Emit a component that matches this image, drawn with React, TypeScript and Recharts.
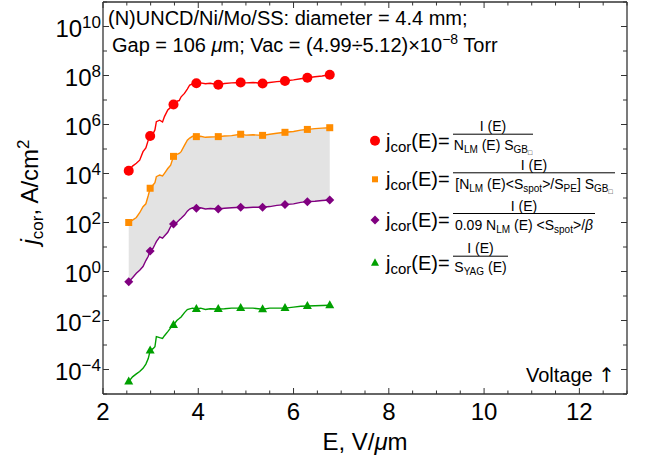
import React from 'react';
import { ComposedChart, Line, Area, Scatter, XAxis, YAxis } from 'recharts';

// ---------------- data ----------------
const E = [2.54, 2.62, 2.70, 2.77, 2.84, 2.90, 2.95, 2.99, 3.05, 3.09, 3.12, 3.19, 3.25, 3.29, 3.36, 3.42, 3.48, 3.55, 3.60, 3.64, 3.71, 3.77, 3.82, 3.88, 3.96, 4.05, 4.15, 4.25, 4.42, 4.55, 4.70, 4.89, 5.00, 5.15, 5.35, 5.50, 5.65, 5.82, 6.00, 6.15, 6.29, 6.45, 6.60, 6.76];

const redLine = [1.3e4, 2.0e4, 2.6e4, 3.5e4, 7.8e4, 1.1e5, 2.3e5, 3.4e5, 4.2e5, 6.0e5, 1.3e6, 1.5e6, 1.26e6, 2.1e6, 3.9e6, 5.0e6, 6.6e6, 8.9e6, 9.5e6, 1.35e7, 1.86e7, 2.8e7, 4.1e7, 4.5e7, 4.8e7, 5.0e7, 4.6e7, 4.8e7, 4.2e7, 4.7e7, 5.0e7, 5.2e7, 5.0e7, 5.2e7, 4.7e7, 5.2e7, 5.6e7, 6.0e7, 6.6e7, 7.4e7, 8.1e7, 8.9e7, 9.5e7, 1.07e8];
const orangeLine = [1.0e2, 1.26e2, 1.6e2, 2.5e2, 4.4e2, 5.8e2, 1.26e3, 2.5e3, 3.4e3, 4.2e3, 7.4e3, 8.7e3, 7.9e3, 1.02e4, 1.6e4, 2.2e4, 5.0e4, 6.0e4, 6.6e4, 7.8e4, 1.4e5, 2.3e5, 2.8e5, 3.3e5, 3.2e5, 3.3e5, 3.0e5, 3.1e5, 3.2e5, 3.4e5, 3.5e5, 4.0e5, 3.7e5, 3.8e5, 3.6e5, 4.0e5, 4.4e5, 4.8e5, 5.2e5, 5.9e5, 6.3e5, 6.8e5, 7.1e5, 7.4e5];
const purpleLine = [0.38, 0.56, 0.85, 1.12, 1.6, 2.8, 4.2, 6.9, 8.9, 12.6, 16.6, 26, 23, 28, 40, 68, 87, 100, 126, 148, 200, 290, 355, 400, 380, 400, 355, 372, 355, 380, 400, 417, 400, 417, 417, 447, 500, 537, 575, 660, 708, 741, 794, 832];
const greenLine = [3.2e-5, 5.0e-5, 6.6e-5, 8.3e-5, 1.12e-4, 1.66e-4, 2.8e-4, 5.9e-4, 7.1e-4, 8.5e-4, 2.2e-3, 2.0e-3, 1.86e-3, 2.4e-3, 3.5e-3, 5.0e-3, 6.6e-3, 1.0e-2, 1.2e-2, 1.4e-2, 2.1e-2, 2.8e-2, 3.0e-2, 3.2e-2, 2.95e-2, 3.2e-2, 2.8e-2, 3.0e-2, 2.95e-2, 3.0e-2, 3.2e-2, 3.2e-2, 3.2e-2, 3.2e-2, 2.9e-2, 3.2e-2, 3.2e-2, 3.2e-2, 3.5e-2, 3.8e-2, 3.9e-2, 4.0e-2, 4.1e-2, 4.2e-2];

const markerE = [2.54, 2.99, 3.48, 3.96, 4.42, 4.89, 5.35, 5.82, 6.29, 6.76];
const redMarkers = [1.3e4, 3.4e5, 6.6e6, 4.8e7, 4.2e7, 5.2e7, 4.7e7, 6.0e7, 8.1e7, 1.07e8];
const orangeMarkers = [1.0e2, 2.5e3, 5.0e4, 3.2e5, 3.2e5, 4.0e5, 3.6e5, 4.8e5, 6.3e5, 7.4e5];
const purpleMarkers = [0.38, 6.9, 87, 380, 355, 417, 417, 537, 708, 832];
const greenMarkers = [3.2e-5, 5.9e-4, 6.6e-3, 2.95e-2, 2.95e-2, 3.2e-2, 2.9e-2, 3.2e-2, 3.9e-2, 4.2e-2];

const xTicks = [2, 2.5, 3, 3.5, 4, 4.5, 5, 5.5, 6, 6.5, 7, 7.5, 8, 8.5, 9, 9.5, 10, 10.5, 11, 11.5, 12, 12.5, 13];
const xLabelTicks = [2, 4, 6, 8, 10, 12];
const yTickExponents = [-5, -4, -3, -2, -1, 0, 1, 2, 3, 4, 5, 6, 7, 8, 9, 10, 11];
const yLabelExponents = [-4, -2, 0, 2, 4, 6, 8, 10];

// ---------------- tables built from the arrays ----------------
const lineTable = E.map((e, i) => ({
  E: e,
  red: redLine[i],
  orange: orangeLine[i],
  purple: purpleLine[i],
  green: greenLine[i],
  band: [purpleLine[i], orangeLine[i]],
}));
const markerTable = markerE.map((e, i) => ({
  E: e,
  red: redMarkers[i],
  orange: orangeMarkers[i],
  purple: purpleMarkers[i],
  green: greenMarkers[i],
}));
const yTicks = yTickExponents.map((n) => Math.pow(10, n));

// ---------------- layout & style ----------------
const W = 654;
const H = 466;
const PLOT_LEFT = 103;
const PLOT_RIGHT = 627;
const PLOT_TOP = 2;
const PLOT_BOTTOM = 394;
const FRAME = '#333333';
const FONT = '"Liberation Sans", Arial, Helvetica, sans-serif';
const RED = '#FF0000';
const ORANGE = '#FF8C00';
const PURPLE = '#800080';
const GREEN = '#00A000';

const expText = (n: number) => (n < 0 ? '\u2212' + String(-n) : String(n));

const BottomTick = (props: any) => {
  const { x, payload } = props;
  const v = payload.value;
  const major = xLabelTicks.includes(v);
  return (
    <g>
      <line x1={x} x2={x} y1={PLOT_BOTTOM} y2={PLOT_BOTTOM - (major ? 6 : 3.5)} stroke={FRAME} strokeWidth={1} />
      <line x1={x} x2={x} y1={PLOT_TOP} y2={PLOT_TOP + (major ? 6 : 3.5)} stroke={FRAME} strokeWidth={1} />
      {major && (
        <text x={x} y={PLOT_BOTTOM + 26} textAnchor="middle" fontSize={24} fontFamily={FONT} fill="#000">
          {v}
        </text>
      )}
    </g>
  );
};

const LeftTick = (props: any) => {
  const { y, payload } = props;
  const n = Math.round(Math.log10(payload.value));
  const labeled = yLabelExponents.includes(n);
  return (
    <g>
      <line x1={PLOT_LEFT} x2={PLOT_LEFT + (labeled ? 6 : 4)} y1={y} y2={y} stroke={FRAME} strokeWidth={1} />
      <line x1={PLOT_RIGHT} x2={PLOT_RIGHT - (labeled ? 6 : 4)} y1={y} y2={y} stroke={FRAME} strokeWidth={1} />
      {labeled && (
        <text x={101} y={y + 10} textAnchor="end" fontSize={24} fontFamily={FONT} fill="#000">
          10
          <tspan dy={-9} fontSize={17}>
            {expText(n)}
          </tspan>
        </text>
      )}
    </g>
  );
};

const circleShape = (p: any) => <circle cx={p.cx} cy={p.cy} r={5} fill={RED} />;
const squareShape = (p: any) => <rect x={p.cx - 3.5} y={p.cy - 3.5} width={7} height={7} fill={ORANGE} />;
const diamondShape = (p: any) => (
  <polygon points={`${p.cx},${p.cy - 4.5} ${p.cx + 4.5},${p.cy} ${p.cx},${p.cy + 4.5} ${p.cx - 4.5},${p.cy}`} fill={PURPLE} />
);
const triangleShape = (p: any) => (
  <polygon points={`${p.cx},${p.cy - 5} ${p.cx + 4.5},${p.cy + 3} ${p.cx - 4.5},${p.cy + 3}`} fill={GREEN} />
);

// ---------------- legend ----------------
const LEG_MARK_X = 375;
const LEG_TEXT_X = 386;
const FRAC_X = 453;

type Part = [string, 'n' | 's' | 'ss' | 'i'];
const LEVEL: Record<string, { off: number; size: number }> = {
  n: { off: 0, size: 14 },
  i: { off: 0, size: 14 },
  s: { off: 3, size: 10 },
  ss: { off: 5, size: 7 },
};
function renderParts(parts: Part[]) {
  let cur = 0;
  return parts.map(([t, k], idx) => {
    const lv = LEVEL[k];
    const dy = lv.off - cur;
    cur = lv.off;
    return (
      <tspan key={idx} dy={dy} fontSize={lv.size} fontStyle={k === 'i' ? 'italic' : undefined}>
        {t}
      </tspan>
    );
  });
}

function LegendEntry(props: { y: number; marker: React.ReactNode; barWidth: number; den: Part[] }) {
  const { y, marker, barWidth, den } = props;
  const bar = y - 6.5;
  const cx = FRAC_X + barWidth / 2;
  return (
    <g fontFamily={FONT} fill="#000">
      {marker}
      <text x={LEG_TEXT_X} y={y + 7} fontSize={20}>
        <tspan>j</tspan>
        <tspan dy={4} fontSize={15}>cor</tspan>
        <tspan dy={-4}>(E)=</tspan>
      </text>
      <line x1={FRAC_X} x2={FRAC_X + barWidth} y1={bar} y2={bar} stroke="#000" strokeWidth={1} />
      <text x={cx} y={bar - 3} fontSize={14} textAnchor="middle">I (E)</text>
      <text x={cx} y={bar + 16} fontSize={14} textAnchor="middle">{renderParts(den)}</text>
    </g>
  );
}

export default function App() {
  return (
    <div style={{ position: 'absolute', left: 0, top: 0, width: W, height: H, background: '#fff' }}>
      <ComposedChart
        width={W}
        height={H}
        data={lineTable}
        margin={{ top: PLOT_TOP, right: W - PLOT_RIGHT, bottom: 0, left: 0 }}
      >
        <XAxis
          xAxisId="bottom"
          dataKey="E"
          type="number"
          domain={[2, 13]}
          ticks={xTicks}
          interval={0}
          allowDataOverflow
          height={H - PLOT_BOTTOM}
          axisLine={{ stroke: FRAME, strokeWidth: 1.3 }}
          tickLine={false}
          tick={BottomTick}
        />
        <YAxis
          yAxisId="left"
          type="number"
          scale="log"
          domain={[1e-5, 1e11]}
          ticks={yTicks}
          interval={0}
          allowDataOverflow
          width={PLOT_LEFT}
          axisLine={{ stroke: FRAME, strokeWidth: 1.3 }}
          tickLine={false}
          tick={LeftTick}
        />
        <Area
          xAxisId="bottom"
          yAxisId="left"
          dataKey="band"
          type="linear"
          stroke="none"
          fill="#E3E3E3"
          fillOpacity={1}
          isAnimationActive={false}
        />
        <Line xAxisId="bottom" yAxisId="left" dataKey="red" type="linear" stroke={RED} strokeWidth={1.4} dot={false} isAnimationActive={false} />
        <Line xAxisId="bottom" yAxisId="left" dataKey="orange" type="linear" stroke={ORANGE} strokeWidth={1.4} dot={false} isAnimationActive={false} />
        <Line xAxisId="bottom" yAxisId="left" dataKey="purple" type="linear" stroke={PURPLE} strokeWidth={1.4} dot={false} isAnimationActive={false} />
        <Line xAxisId="bottom" yAxisId="left" dataKey="green" type="linear" stroke={GREEN} strokeWidth={1.4} dot={false} isAnimationActive={false} />
        <Scatter xAxisId="bottom" yAxisId="left" data={markerTable} dataKey="red" shape={circleShape} isAnimationActive={false} />
        <Scatter xAxisId="bottom" yAxisId="left" data={markerTable} dataKey="orange" shape={squareShape} isAnimationActive={false} />
        <Scatter xAxisId="bottom" yAxisId="left" data={markerTable} dataKey="purple" shape={diamondShape} isAnimationActive={false} />
        <Scatter xAxisId="bottom" yAxisId="left" data={markerTable} dataKey="green" shape={triangleShape} isAnimationActive={false} />
      </ComposedChart>

      <svg
        width={W}
        height={H}
        style={{ position: 'absolute', left: 0, top: 0, pointerEvents: 'none', overflow: 'visible' }}
      >
        {/* frame: top and right edges */}
        <line x1={PLOT_LEFT} x2={PLOT_RIGHT} y1={PLOT_TOP} y2={PLOT_TOP} stroke={FRAME} strokeWidth={1.3} />
        <line x1={PLOT_RIGHT} x2={PLOT_RIGHT} y1={PLOT_TOP} y2={PLOT_BOTTOM} stroke={FRAME} strokeWidth={1.3} />

        {/* title block */}
        <text x={108} y={25} fontSize={20} fontFamily={FONT} fill="#000">
          (N)UNCD/Ni/Mo/SS: diameter = 4.4 mm;
        </text>
        <text x={112} y={52} fontSize={20} fontFamily={FONT} fill="#000">
          <tspan>Gap = 106 </tspan>
          <tspan fontStyle="italic">{'\u03BC'}</tspan>
          <tspan>{'m; Vac = (4.99\u00F75.12)\u00D710'}</tspan>
          <tspan dy={-8} fontSize={14}>{'\u22128'}</tspan>
          <tspan dy={8}>{' Torr'}</tspan>
        </text>

        {/* legend */}
        <LegendEntry
          y={140.7}
          barWidth={80}
          marker={<circle cx={LEG_MARK_X} cy={140.7} r={5} fill={RED} />}
          den={[['N', 'n'], ['LM', 's'], [' (E) S', 'n'], ['GB', 's'], ['\u25A1', 'ss']]}
        />
        <LegendEntry
          y={179.3}
          barWidth={162}
          marker={<rect x={LEG_MARK_X - 3} y={179.3 - 3} width={6} height={6} fill={ORANGE} />}
          den={[['[N', 'n'], ['LM', 's'], [' (E)<S', 'n'], ['spot', 's'], ['>/S', 'n'], ['PE', 's'], ['] S', 'n'], ['GB', 's'], ['\u25A1', 'ss']]}
        />
        <LegendEntry
          y={220}
          barWidth={142}
          marker={
            <polygon
              points={`${LEG_MARK_X},${220 - 4.5} ${LEG_MARK_X + 4.5},220 ${LEG_MARK_X},${220 + 4.5} ${LEG_MARK_X - 4.5},220`}
              fill={PURPLE}
            />
          }
          den={[['0.09 N', 'n'], ['LM', 's'], [' (E) <S', 'n'], ['spot', 's'], ['>/', 'n'], ['\u03B2', 'i']]}
        />
        <LegendEntry
          y={262.7}
          barWidth={55}
          marker={
            <polygon
              points={`${LEG_MARK_X},${262.7 - 4.5} ${LEG_MARK_X + 4},${262.7 + 3} ${LEG_MARK_X - 4},${262.7 + 3}`}
              fill={GREEN}
            />
          }
          den={[['S', 'n'], ['YAG', 's'], [' (E)', 'n']]}
        />

        {/* Voltage arrow note */}
        <text x={615} y={382} fontSize={20} fontFamily={FONT} fill="#000" textAnchor="end">
          <tspan>Voltage </tspan>
          <tspan fontFamily='"DejaVu Sans", sans-serif'>{'\u2191'}</tspan>
        </text>

        {/* axis titles */}
        <text x={(PLOT_LEFT + PLOT_RIGHT) / 2} y={450} fontSize={24} fontFamily={FONT} fill="#000" textAnchor="middle">
          <tspan>E, V/</tspan>
          <tspan fontStyle="italic">{'\u03BC'}</tspan>
          <tspan>m</tspan>
        </text>
        <text
          transform="translate(38,192) rotate(-90)"
          x={0}
          y={0}
          fontSize={24}
          fontFamily={FONT}
          fill="#000"
          textAnchor="middle"
        >
          <tspan fontStyle="italic">j</tspan>
          <tspan dy={5} fontSize={17}>cor</tspan>
          <tspan dy={-5}>, A/cm</tspan>
          <tspan dy={-9} fontSize={17}>2</tspan>
        </text>
      </svg>
    </div>
  );
}
